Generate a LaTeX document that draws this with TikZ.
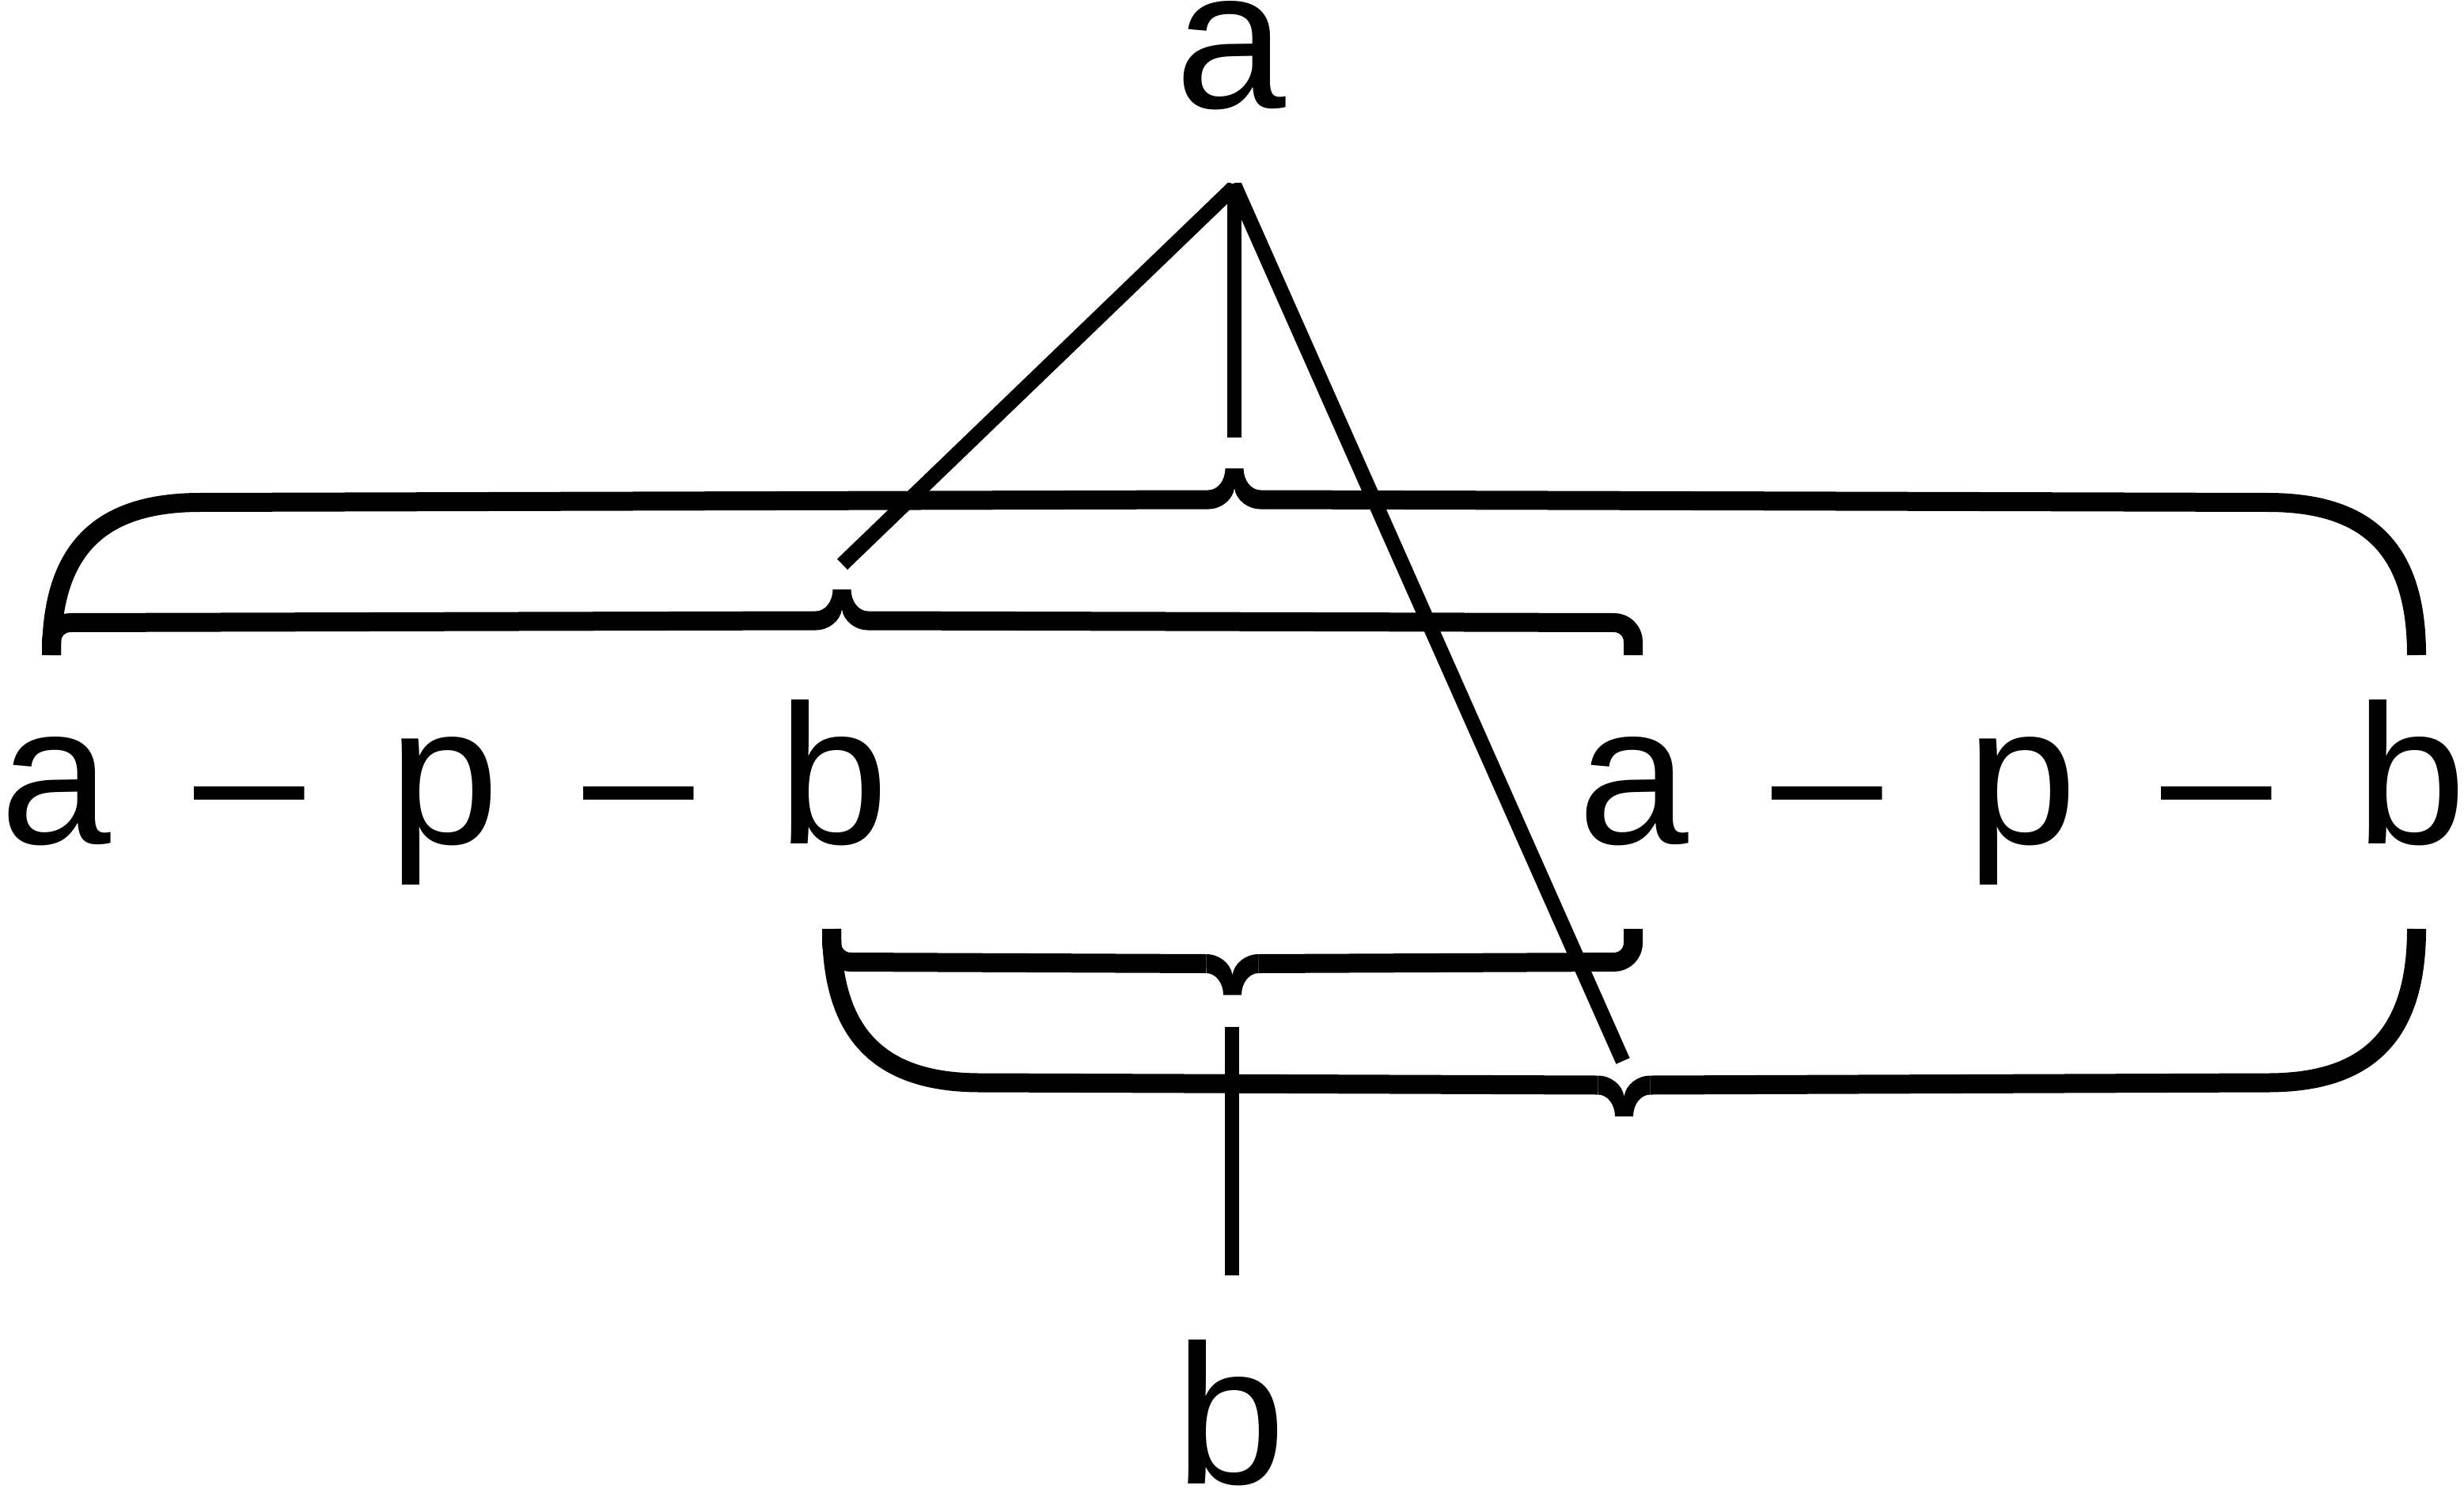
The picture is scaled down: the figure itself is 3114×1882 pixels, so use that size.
\documentclass[tikz,border=0pt]{standalone}
\usepackage{fontspec}
\setmainfont{Liberation Sans}
\begin{document}
\begin{tikzpicture}[x=0.25pt,y=-0.25pt,
  bracestyle/.style={line width=6pt, line cap=butt, line join=round},
  linkstyle/.style={line width=4.675pt, line cap=butt},
  lbl/.style={inner sep=0pt, outer sep=0pt, anchor=base west, font=\fontsize{62.75pt}{75pt}\selectfont},
  bracetip/.pic={\fill (-33,27.5) .. controls (-21,27.5) and (-11.5,15) .. (-11.5,0) -- (11.5,0) .. controls (11.5,15) and (21,27.5) .. (33,27.5) -- (33,51.5) .. controls (17,51.5) and (2,40) .. (0,25) .. controls (-2,40) and (-17,51.5) .. (-33,51.5) -- cycle;}
]
\useasboundingbox (0,0) rectangle (3114,1882);

% labels
\node[lbl] (ta) at (1485,137) {a};
\node[lbl] (tb) at (1485,1875) {b};
\node[lbl] (rowL) at (0,1066.7) {\spaceskip=26.6pt\relax a \textendash{} p \textendash{} b};
\node[lbl] (rowR) at (1994,1066.7) {\spaceskip=26.6pt\relax a \textendash{} p \textendash{} b};

% brace tips
\coordinate (Atip) at (1560,592);
\coordinate (Btip) at (1064,745);
\coordinate (Ctip) at (1557.5,1257.5);
\coordinate (Dtip) at (2052.5,1411);
\pic at (Atip) {bracetip};
\pic at (Btip) {bracetip};
\pic[yscale=-1] at (Ctip) {bracetip};
\pic[yscale=-1] at (Dtip) {bracetip};

% brace A (upper, big)
\draw[bracestyle] (65,828) .. controls (65,695) and (125,635) .. (253,635) -- (1527,631.5);
\draw[bracestyle] (3054,828) .. controls (3054,695) and (2994,635) .. (2866,635) -- (1593,631.5);
% brace B (upper left, small ends)
\draw[bracestyle] (65,828) -- (65,811) .. controls (65,797.75) and (75.75,787) .. (89,787) -- (1031,784.5);
\draw[bracestyle] (2064,828) -- (2064,811) .. controls (2064,797.75) and (2053.25,787) .. (2040,787) -- (1097,784.5);
% brace C (lower middle, small ends)
\draw[bracestyle] (1051,1174) -- (1051,1192) .. controls (1051,1205.25) and (1061.75,1216) .. (1075,1216) -- (1524.5,1218);
\draw[bracestyle] (2064,1174) -- (2064,1192) .. controls (2064,1205.25) and (2053.25,1216) .. (2040,1216) -- (1590.5,1218);
% brace D (lower, big)
\draw[bracestyle] (1051,1174) .. controls (1051,1307) and (1111,1368.5) .. (1239,1368.5) -- (2019.5,1371.5);
\draw[bracestyle] (3054,1174) .. controls (3054,1307) and (2994,1368.5) .. (2866,1368.5) -- (2085.5,1371.5);

% connectors
\coordinate (apex) at (1560,232);
\coordinate (vEnd) at (1560,553);
\coordinate (lEnd) at (1064.5,713.3);
\coordinate (rEnd) at (2051,1341);
\coordinate (bTop) at (1557,1298);
\coordinate (bBot) at (1557,1612);
\begin{scope}
\clip (0,232) rectangle (3114,1882);
\draw[linkstyle] (apex) -- (vEnd);
\draw[linkstyle] ([yshift=-1pt]apex) -- (lEnd);
\draw[linkstyle] ([xshift=-0.25pt]apex) -- (rEnd);
\end{scope}
\draw[linkstyle] (bTop) -- (bBot);
\end{tikzpicture}
\end{document}
